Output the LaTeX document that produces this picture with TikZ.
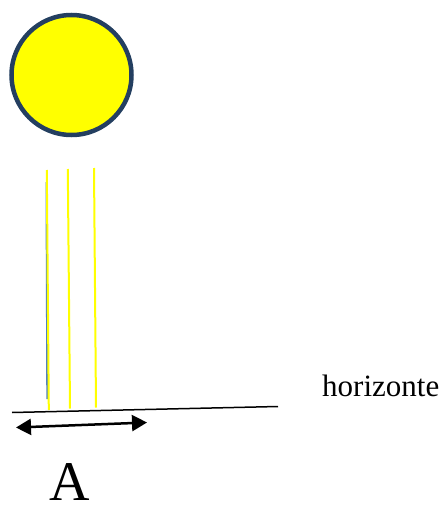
\documentclass[tikz,border=0pt]{standalone}
\usepackage{fontspec}
\setmainfont{Liberation Serif}
\usetikzlibrary{arrows.meta}
\definecolor{sunedge}{HTML}{243F60}
\definecolor{sunfill}{HTML}{FFFF00}
\definecolor{raycol}{HTML}{FFFF00}
\definecolor{bluecol}{HTML}{4F81BD}
\tikzset{
  sun/.style={circle, draw=sunedge, fill=sunfill, line width=4.5pt, minimum size=120pt, inner sep=0pt},
  ray/.style={draw=raycol, line width=2pt},
  blueray/.style={draw=bluecol, line width=2pt},
  horizon/.style={draw=black, line width=1.5pt},
  measure/.style={draw=black, line width=2.5pt, {Triangle[length=15pt,width=16pt]}-{Triangle[length=15pt,width=16pt]}},
  lbl/.style={inner sep=0pt, text=black}
}
\begin{document}
\begin{tikzpicture}[x=1pt,y=-1pt]
\useasboundingbox (0,0) rectangle (445,513);
\node[sun] (sun) at (71.5,75) {};
% blue ray
\coordinate (b1) at (46.5,182);
\coordinate (b2) at (47.3,399);
\draw[blueray] (b1) -- (b2);
% yellow rays
\coordinate (r1a) at (46.8,170);
\coordinate (r1b) at (48.8,410);
\coordinate (r2a) at (67.8,169);
\coordinate (r2b) at (70,408.5);
\coordinate (r3a) at (94,168);
\coordinate (r3b) at (96,407.5);
\draw[ray] (r1a) -- (r1b);
\draw[ray] (r2a) -- (r2b);
\draw[ray] (r3a) -- (r3b);
% horizon
\coordinate (h1) at (12,412.5);
\coordinate (h2) at (278,406.5);
\draw[horizon] (h1) -- (h2);
% measure arrow
\coordinate (m1) at (16,427.5);
\coordinate (m2) at (147,422.5);
\draw[measure] (m1) -- (m2);
\node[lbl, anchor=base west, font=\fontsize{31}{31}\selectfont] (hz) at (322,396.5) {horizonte};
\node[lbl, anchor=base, font=\fontsize{56}{56}\selectfont] (A) at (70,500) {A};
\end{tikzpicture}
\end{document}
